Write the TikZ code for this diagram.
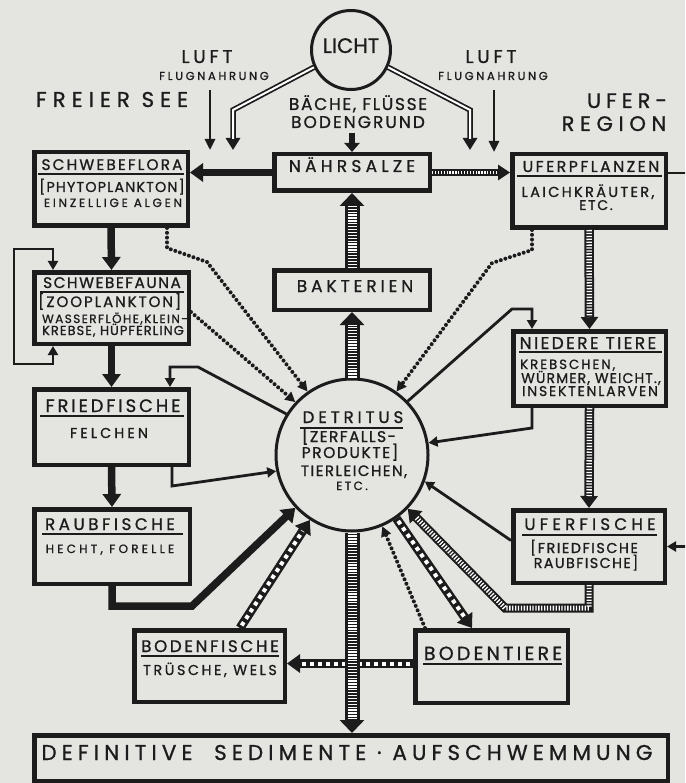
\documentclass[tikz,border=0pt]{standalone}
\usepackage{fontspec}
\setmainfont{Poppins}
\usetikzlibrary{arrows.meta}
\definecolor{paper}{RGB}{228,228,225}
\definecolor{ink}{RGB}{28,28,28}
\newcommand\FS[2]{\fontsize{#1}{#1}\selectfont\addfontfeatures{LetterSpace=#2,FakeBold=1.0}}
\tikzset{
  box/.style={draw=ink, line width=4.5pt, fill=paper, inner sep=0pt, anchor=north west},
  circ/.style={draw=ink, line width=3pt, circle, fill=paper, inner sep=0pt},
  lbl/.style={inner sep=0pt, anchor=base, text=ink},
  uline/.style={draw=ink, line width=1.8pt},
  arrThin/.style={draw=ink, line width=2.8pt, line join=miter, -{Triangle[length=9pt,width=10pt]}},
  arrLuft/.style={draw=ink, line width=2.6pt, -{Triangle[length=11pt,width=10pt]}},
  arrThick/.style={draw=ink, line width=7.5pt, line join=miter, -{Triangle[length=13pt,width=18pt]}},
  arrSmall/.style={draw=ink, line width=6.5pt, -{Triangle[length=9pt,width=15pt]}},
  arrDot/.style={draw=ink, line width=4pt, line cap=round, dash pattern=on 0pt off 4.8pt, -{Triangle[length=10pt,width=10pt]}},
  arrHatch/.style n args={4}{draw=ink, line width=#1, line join=miter, -{Triangle[length=#3,width=#2]}, postaction={draw=white, line width=#4, dash pattern=on 1.3pt off 1.6pt, -, shorten >=#3}},
  arrFilm/.style n args={4}{draw=ink, line width=#1, line join=miter, -{Triangle[length=#3,width=#2]}, postaction={draw=white, line width=#4, dash pattern=on 4pt off 4pt, -, shorten >=#3, shorten <=3pt}},
  arrDouble/.style={draw=ink, line width=5.5pt, line join=miter, -{Triangle[length=12pt,width=14pt]}, postaction={draw=white, line width=2pt, -, shorten >=11pt}},
}
\begin{document}
\begin{tikzpicture}[x=1pt,y=-1pt]
\useasboundingbox (0,0) rectangle (685,783);
\fill[paper] (0,0) rectangle (685,783);
\clip (0,0) rectangle (685,783);

% ---------- boxes ----------
\node[box, minimum width=155.5pt, minimum height=36.5pt] (naehr) at (272,152) {};
\node[box, minimum width=155.5pt, minimum height=39.5pt] (bakt) at (272,268) {};
\node[box, minimum width=153.5pt, minimum height=73.5pt] (flora) at (32,150) {};
\node[box, minimum width=154.5pt, minimum height=71.5pt] (fauna) at (32,270) {};
\node[box, minimum width=154.5pt, minimum height=75.5pt] (fried) at (32,387) {};
\node[box, minimum width=155.5pt, minimum height=74.5pt] (raub) at (32,507) {};
\node[box, minimum width=150.5pt, minimum height=71.5pt] (bodenf) at (132,628) {};
\node[box, minimum width=152.5pt, minimum height=72.5pt] (bodent) at (413,628) {};
\node[box, minimum width=151.5pt, minimum height=72.5pt] (uff) at (511,508) {};
\node[box, minimum width=152.5pt, minimum height=74.5pt] (niedere) at (511,329) {};
\node[box, minimum width=153.5pt, minimum height=73.5pt] (uferpfl) at (510,152) {};
\node[box, minimum width=633.5pt, minimum height=45.5pt] (sed) at (32,733) {};
\node[circ, minimum size=79pt] (licht) at (351,50) {};
\node[circ, minimum size=152pt] (det) at (352,455) {};

% ---------- labels ----------
\node[lbl, font=\FS{21}{0}] (lichtT) at (351,53) {LICHT};
\node[lbl, font=\FS{18.5}{20}] (luftL) at (207,63) {LUFT};
\node[lbl, font=\FS{11.5}{23}] (flugL) at (214,80) {FLUGNAHRUNG};
\node[lbl, font=\FS{18.5}{20}] (luftR) at (491,63) {LUFT};
\node[lbl, font=\FS{11.5}{23}] (flugR) at (493,80) {FLUGNAHRUNG};
\node[lbl, font=\FS{21.4}{28}] (freier) at (112,107) {FREIER SEE};
\node[lbl, font=\FS{21}{24}] (uferT) at (627,108) {UFER-};
\node[lbl, font=\FS{21}{27}] (regionT) at (614,131) {REGION};
\node[lbl, font=\FS{17}{10}] (baeche) at (358,110) {BÄCHE, FLÜSSE};
\node[lbl, font=\FS{17}{12}] (bodengr) at (358,128) {BODENGRUND};
\node[lbl, font=\FS{17}{25}] (naehrT) at (352,172) {NÄHRSALZE};
\node[lbl, font=\FS{17}{23}] (baktT) at (355,292) {BAKTERIEN};

\node[lbl, font=\FS{15.3}{14}] (floraT) at (112,170) {SCHWEBEFLORA};
\node[lbl, font=\FS{14.3}{8}] (floraA) at (112,192) {[PHYTOPLANKTON]};
\node[lbl, font=\FS{12}{23}] (floraB) at (113,207) {EINZELLIGE ALGEN};

\node[lbl, font=\FS{15.3}{10}] (faunaT) at (112,288) {SCHWEBEFAUNA};
\node[lbl, font=\FS{15}{13}, anchor=base west] (faunaA) at (38,307) {[ZOOPLANKTON]};
\node[lbl, font=\FS{12}{12}] (faunaB) at (115,323) {WASSERFLÖHE,KLEIN-};
\node[lbl, font=\FS{13}{8}] (faunaC) at (113,335) {KREBSE, HÜPFERLING};

\node[lbl, font=\FS{18}{16}] (friedT) at (113,412) {FRIEDFISCHE};
\node[lbl, font=\FS{14.3}{22}] (friedA) at (109,438) {FELCHEN};

\node[lbl, font=\FS{16.7}{21}] (raubT) at (110,530) {RAUBFISCHE};
\node[lbl, font=\FS{12}{27}] (raubA) at (110,553) {HECHT, FORELLE};

\node[lbl, font=\FS{16.7}{16}] (bodenfT) at (210,652) {BODENFISCHE};
\node[lbl, font=\FS{14.3}{18}] (bodenfA) at (210,675) {TRÜSCHE, WELS};

\node[lbl, font=\FS{19}{17}] (bodentT) at (493,660) {BODENTIERE};

\node[lbl, font=\FS{16.7}{25}] (uffT) at (590,530) {UFERFISCHE};
\node[lbl, font=\FS{14.3}{11}] (uffA) at (584,553) {[FRIEDFISCHE};
\node[lbl, font=\FS{14.3}{10}] (uffB) at (586,568) {RAUBFISCHE]};

\node[lbl, font=\FS{17}{14}] (niedT) at (588,349) {NIEDERE TIERE};
\node[lbl, font=\FS{13.3}{15}, anchor=base west] (niedA) at (520,369) {KREBSCHEN,};
\node[lbl, font=\FS{14}{8}] (niedB) at (591,383) {WÜRMER, WEICHT.,};
\node[lbl, font=\FS{14}{13}] (niedC) at (590,396) {INSEKTENLARVEN};

\node[lbl, font=\FS{15.7}{16}] (pflT) at (591,172) {UFERPFLANZEN};
\node[lbl, font=\FS{14.5}{16}] (pflA) at (588,197) {LAICHKRÄUTER,};
\node[lbl, font=\FS{14}{12}] (pflB) at (596,210) {ETC.};

\node[lbl, font=\FS{16.7}{23}] (detT) at (353,423) {DETRITUS};
\node[lbl, font=\FS{15.5}{9}] (detA) at (349,442) {[ZERFALLS-};
\node[lbl, font=\FS{15.5}{10}] (detB) at (350,458) {PRODUKTE]};
\node[lbl, font=\FS{15}{10}] (detC) at (354,476) {TIERLEICHEN,};
\node[lbl, font=\FS{12}{20}] (detD) at (352,490) {ETC.};

\node[lbl, font=\FS{21.4}{24}] (sedT) at (347,760) {DEFINITIVE\ \ SEDIMENTE · AUFSCHWEMMUNG};

% ---------- underlines ----------
\draw[uline] (38,174) -- (184,174);
\draw[uline] (40,292) -- (184,292);
\draw[uline] (40,416) -- (184,416);
\draw[uline] (42,534) -- (183,534);
\draw[uline] (141,656) -- (279,656);
\draw[uline] (423,664) -- (562,664);
\draw[uline] (522,535) -- (657,535);
\draw[uline] (519,352) -- (662,352);
\draw[uline] (517,176) -- (662,176);
\draw[uline] (300,428) -- (403,428);

% ---------- top arrows ----------
\coordinate (lA) at (210,90); \coordinate (lB) at (210,150);
\coordinate (rA) at (494,90); \coordinate (rB) at (494,152);
\coordinate (dL) at (233,150); \coordinate (dR) at (470,150);
\coordinate (bA) at (352,133);
\draw[arrLuft] (lA) -- (lB);
\draw[arrLuft] (rA) -- (rB);
\draw[arrDouble] (licht.205) -- (233,110) -- (dL);
\draw[arrDouble] (licht.335) -- (470,110) -- (dR);
\draw[arrSmall] (bA) -- (naehr.north);

% ---------- main connectors ----------
\draw[arrThick] (naehr.west) -- (naehr.west -| flora.east);
\draw[arrHatch={7pt}{15pt}{12pt}{3pt}] (naehr.east) -- (naehr.east -| uferpfl.west);

\draw[arrThick] (flora.south) -- (fauna.north);
\draw[arrThick] (fauna.south) -- (fried.north);
\draw[arrThick] (fried.south) -- (raub.north);

\draw[arrThin, {Triangle[length=9pt,width=10pt]}-{Triangle[length=9pt,width=10pt]}]
  ([xshift=21pt]fauna.north west) -- ++(0,-21) -| (14,364) -| ([xshift=21pt]fauna.south west);

\draw[arrDot] ([xshift=135pt]flora.south west) -- ++(0,20) -- (207,262) -- (det.125);
\draw[arrDot] ([yshift=-4pt]fauna.east) -- (det.137);
\draw[arrDot] ([xshift=22pt]uferpfl.south west) -- ++(0,20) -- (492,263) -- (det.55);

\draw[arrThin] (det.148) -- (198,367) -| ([xshift=138pt]fried.north west);
\draw[arrThin] ([xshift=140pt]fried.south west) -- ++(0,19) -- (det.192);
\draw[arrThick] (raub.south) -- ++(0,20) -- ++(80,0) -- (det.223);

\draw[arrThin] (det.44) -- (512,309) -| ([xshift=21pt]niedere.north west);
\draw[arrThin] ([xshift=21pt]niedere.south west) -- ++(0,20) -- (det.9);
\draw[arrThin] ([yshift=6pt]uff.west) -- (det.340);
\draw[arrHatch={9pt}{17pt}{12pt}{5pt}] (uff.south) -- ++(0,23) -- (505,608) -- (det.316);

\draw[arrHatch={9.5pt}{17pt}{12pt}{5.5pt}] (uferpfl.south) -- (niedere.north);
\draw[arrHatch={9.5pt}{17pt}{12pt}{5.5pt}] (niedere.south) -- (uff.north);
\draw[arrThin] ([yshift=18pt]uferpfl.east) -- ++(30,0) |- (uff.east);

\draw[arrFilm={9pt}{18pt}{13pt}{4pt}] ([yshift=3pt]bodent.west) -- ([yshift=3pt]bodent.west -| bodenf.east);
\draw[arrFilm={9pt}{18pt}{13pt}{4pt}] ([xshift=108pt]bodenf.north west) -- (det.237);
\draw[arrFilm={9pt}{18pt}{13pt}{4pt}] (det.305) -- ([xshift=59pt]bodent.north west);
\draw[arrDot] ([xshift=12pt]bodent.north west) -- (det.293);

\draw[arrHatch={15pt}{24pt}{13pt}{9pt}] (bakt.north) -- (naehr.south);
\draw[arrHatch={15pt}{24pt}{13pt}{9pt}] (det.north) -- (bakt.south);
\draw[arrHatch={15pt}{24pt}{13pt}{9pt}] (det.south) -- (det.south |- sed.north);
\end{tikzpicture}
\end{document}
